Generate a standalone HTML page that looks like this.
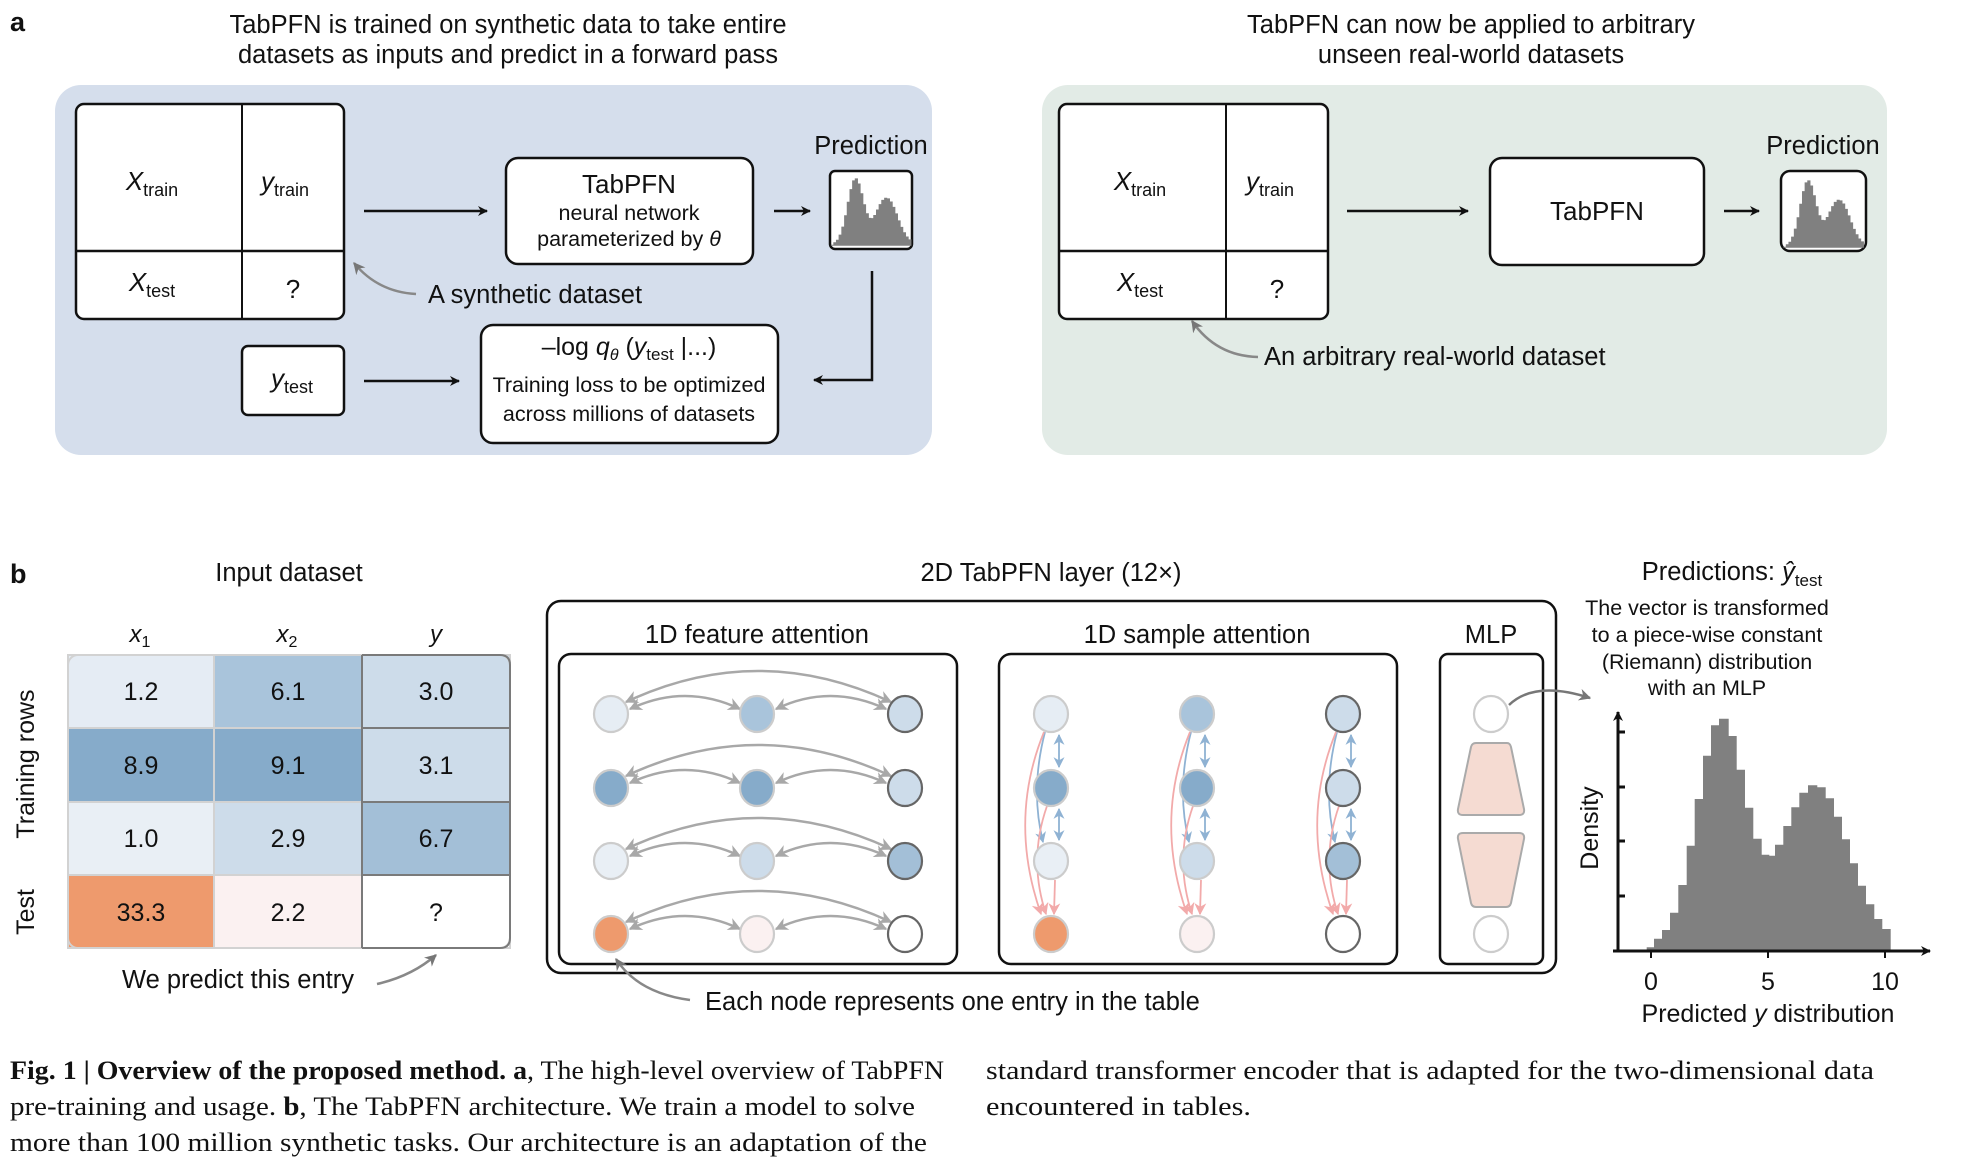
<!DOCTYPE html>
<html><head><meta charset="utf-8"><style>
html,body{margin:0;padding:0;background:#fff}
svg{display:block}
text{font-family:"Liberation Sans",Arial,sans-serif;fill:#111}
.s{font-family:"Liberation Serif",serif}
</style></head><body>
<svg width="1983" height="1166" viewBox="0 0 1983 1166" xmlns="http://www.w3.org/2000/svg">
<defs>
<marker id="ak" viewBox="0 0 10 10" refX="9" refY="5" markerWidth="10" markerHeight="10" markerUnits="userSpaceOnUse" orient="auto-start-reverse"><path d="M0,0 L10,5 L0,10 L3,5 Z" fill="#111"/></marker>
<marker id="ag" viewBox="0 0 10 10" refX="9" refY="5" markerWidth="13" markerHeight="13" markerUnits="userSpaceOnUse" orient="auto-start-reverse"><path d="M0,0 L10,5 L0,10 L3,5 Z" fill="#a8a8a8"/></marker>
<marker id="ad" viewBox="0 0 10 10" refX="9" refY="5" markerWidth="12" markerHeight="12" markerUnits="userSpaceOnUse" orient="auto-start-reverse"><path d="M0,0 L10,5 L0,10 L3,5 Z" fill="#777"/></marker>
<marker id="ab" viewBox="0 0 10 10" refX="9" refY="5" markerWidth="11" markerHeight="11" markerUnits="userSpaceOnUse" orient="auto-start-reverse"><path d="M0,0 L10,5 L0,10 L3,5 Z" fill="#8fb2d3"/></marker>
<marker id="ap" viewBox="0 0 10 10" refX="9" refY="5" markerWidth="12" markerHeight="12" markerUnits="userSpaceOnUse" orient="auto-start-reverse"><path d="M0,0 L10,5 L0,10 L3,5 Z" fill="#f2aaaa"/></marker>
<path id="hist" d="M1646.7 951 V947.3 H1654 V938.7 H1662 V930 H1670 V912.7 H1678.3 V885 H1686.7 V845.7 H1694.7 V799 H1703 V755.7 H1711 V725.3 H1719 V718.7 H1728.7 V736 H1736.7 V769.7 H1745 V807.7 H1753.3 V838.7 H1761.7 V854.7 H1769.3 V855.7 H1775 V844.7 H1783.3 V826 H1791.3 V807.3 H1799.3 V792.7 H1808 V785.3 H1817.3 V787.3 H1825.7 V798.3 H1834 V816.7 H1842 V839.3 H1850 V863.3 H1858 V885.7 H1866 V904.3 H1874.3 V919 H1882.3 V929 H1890.7 V951 Z" fill="#808080"/>
</defs>

<!-- ===== a ===== -->
<text x="10" y="31" font-size="27" font-weight="bold">a</text>
<text x="508" y="33" font-size="25.5" text-anchor="middle">TabPFN is trained on synthetic data to take entire</text>
<text x="508" y="63" font-size="25.5" text-anchor="middle">datasets as inputs and predict in a forward pass</text>
<rect x="55" y="85" width="877" height="370" rx="26" fill="#d5deec"/>

<rect x="76" y="104" width="268" height="215" rx="8" fill="#fff" stroke="#111" stroke-width="2.5"/>
<line x1="242" y1="104" x2="242" y2="319" stroke="#111" stroke-width="2"/>
<line x1="76" y1="251" x2="344" y2="251" stroke="#111" stroke-width="2.5"/>
<text x="152" y="190" font-size="26" text-anchor="middle"><tspan font-style="italic">X</tspan><tspan font-size="18" dy="6">train</tspan></text>
<text x="285" y="190" font-size="26" text-anchor="middle"><tspan font-style="italic">y</tspan><tspan font-size="18" dy="6">train</tspan></text>
<text x="152" y="291" font-size="26" text-anchor="middle"><tspan font-style="italic">X</tspan><tspan font-size="18" dy="6">test</tspan></text>
<text x="293" y="298" font-size="26" text-anchor="middle">?</text>

<line x1="364" y1="211" x2="487" y2="211" stroke="#111" stroke-width="2.5" marker-end="url(#ak)"/>
<rect x="506" y="158" width="247" height="106" rx="12" fill="#fff" stroke="#111" stroke-width="2.5"/>
<text x="629" y="193" font-size="26" text-anchor="middle">TabPFN</text>
<text x="629" y="220" font-size="21.5" text-anchor="middle">neural network</text>
<text x="629" y="246" font-size="21.5" text-anchor="middle">parameterized by <tspan font-style="italic">θ</tspan></text>
<line x1="774" y1="211" x2="810" y2="211" stroke="#111" stroke-width="2.5" marker-end="url(#ak)"/>
<text x="871" y="154" font-size="25.5" text-anchor="middle">Prediction</text>
<rect x="830" y="171" width="82" height="78" rx="5" fill="#fff" stroke="#111" stroke-width="2.5"/>
<use href="#hist" transform="translate(287.5,-30) scale(0.33,0.29)"/>
<polyline points="872,271 872,380 814,380" fill="none" stroke="#111" stroke-width="2.5" marker-end="url(#ak)"/>

<path d="M416,294 Q378,292 354,263" fill="none" stroke="#888" stroke-width="2.5" marker-end="url(#ad)"/>
<text x="428" y="303" font-size="25.5">A synthetic dataset</text>

<rect x="242" y="346" width="102" height="69" rx="6" fill="#fff" stroke="#111" stroke-width="2.5"/>
<text x="292" y="387" font-size="26" text-anchor="middle"><tspan font-style="italic">y</tspan><tspan font-size="18" dy="6">test</tspan></text>
<line x1="364" y1="381" x2="459" y2="381" stroke="#111" stroke-width="2.5" marker-end="url(#ak)"/>
<rect x="481" y="325" width="297" height="118" rx="12" fill="#fff" stroke="#111" stroke-width="2.5"/>
<text x="629" y="355" font-size="25" text-anchor="middle">–log <tspan font-style="italic">q</tspan><tspan font-size="16" dy="5" font-style="italic">θ</tspan><tspan dy="-5"> (</tspan><tspan font-style="italic">y</tspan><tspan font-size="17" dy="5">test</tspan><tspan dy="-5"> |...)</tspan></text>
<text x="629" y="392" font-size="21.5" text-anchor="middle">Training loss to be optimized</text>
<text x="629" y="421" font-size="21.5" text-anchor="middle">across millions of datasets</text>

<!-- right panel -->
<text x="1471" y="33" font-size="25.5" text-anchor="middle">TabPFN can now be applied to arbitrary</text>
<text x="1471" y="63" font-size="25.5" text-anchor="middle">unseen real-world datasets</text>
<rect x="1042" y="85" width="845" height="370" rx="26" fill="#e2ebe6"/>
<rect x="1059" y="104" width="269" height="215" rx="8" fill="#fff" stroke="#111" stroke-width="2.5"/>
<line x1="1226" y1="104" x2="1226" y2="319" stroke="#111" stroke-width="2"/>
<line x1="1059" y1="251" x2="1328" y2="251" stroke="#111" stroke-width="2.5"/>
<text x="1140" y="190" font-size="26" text-anchor="middle"><tspan font-style="italic">X</tspan><tspan font-size="18" dy="6">train</tspan></text>
<text x="1270" y="190" font-size="26" text-anchor="middle"><tspan font-style="italic">y</tspan><tspan font-size="18" dy="6">train</tspan></text>
<text x="1140" y="291" font-size="26" text-anchor="middle"><tspan font-style="italic">X</tspan><tspan font-size="18" dy="6">test</tspan></text>
<text x="1277" y="298" font-size="26" text-anchor="middle">?</text>
<line x1="1347" y1="211" x2="1468" y2="211" stroke="#111" stroke-width="2.5" marker-end="url(#ak)"/>
<rect x="1490" y="158" width="214" height="107" rx="12" fill="#fff" stroke="#111" stroke-width="2.5"/>
<text x="1597" y="220" font-size="26" text-anchor="middle">TabPFN</text>
<line x1="1724" y1="211" x2="1759" y2="211" stroke="#111" stroke-width="2.5" marker-end="url(#ak)"/>
<text x="1823" y="154" font-size="25.5" text-anchor="middle">Prediction</text>
<rect x="1781" y="171" width="85" height="80" rx="9" fill="#fff" stroke="#111" stroke-width="2.5"/>
<use href="#hist" transform="translate(1240,-28) scale(0.33,0.29)"/>
<path d="M1258,357 Q1216,356 1192,321" fill="none" stroke="#888" stroke-width="2.5" marker-end="url(#ad)"/>
<text x="1264" y="365" font-size="25.5">An arbitrary real-world dataset</text>

<!-- ===== b ===== -->
<text x="10" y="583" font-size="27" font-weight="bold">b</text>
<text x="289" y="581" font-size="25.5" text-anchor="middle">Input dataset</text>
<text x="140" y="642" font-size="24" text-anchor="middle"><tspan font-style="italic">x</tspan><tspan font-size="16" dy="5">1</tspan></text>
<text x="287" y="642" font-size="24" text-anchor="middle"><tspan font-style="italic">x</tspan><tspan font-size="16" dy="5">2</tspan></text>
<text x="436" y="642" font-size="24" text-anchor="middle" font-style="italic">y</text>

<g stroke="#d2d2d2" stroke-width="2">
<rect x="68" y="655" width="146" height="73" fill="#e5ecf4"/>
<rect x="214" y="655" width="148" height="73" fill="#a9c4db"/>
<rect x="362" y="655" width="148" height="73" fill="#cddcea"/>
<rect x="68" y="728" width="146" height="74" fill="#86abca"/>
<rect x="214" y="728" width="148" height="74" fill="#86abca"/>
<rect x="362" y="728" width="148" height="74" fill="#cddcea"/>
<rect x="68" y="802" width="146" height="73" fill="#e9eff5"/>
<rect x="214" y="802" width="148" height="73" fill="#cddcea"/>
<rect x="362" y="802" width="148" height="73" fill="#a3bfd7"/>
<rect x="68" y="875" width="146" height="73" fill="#ee9a6d"/>
<rect x="214" y="875" width="148" height="73" fill="#fbf1f1"/>
<rect x="362" y="875" width="148" height="73" fill="#fff"/>
</g>
<rect x="68" y="655" width="442" height="293" rx="10" fill="none" stroke="#d2d2d2" stroke-width="2"/>
<g stroke="#7a7a7a" stroke-width="2" fill="none">
<line x1="362" y1="655" x2="362" y2="948"/>
<line x1="362" y1="728" x2="510" y2="728"/>
<line x1="362" y1="802" x2="510" y2="802"/>
<line x1="362" y1="875" x2="510" y2="875"/>
<path d="M362,655 H500 Q510,655 510,665 V938 Q510,948 500,948 H362"/>
</g>
<g font-size="25" text-anchor="middle">
<text x="141" y="700">1.2</text><text x="288" y="700">6.1</text><text x="436" y="700">3.0</text>
<text x="141" y="774">8.9</text><text x="288" y="774">9.1</text><text x="436" y="774">3.1</text>
<text x="141" y="847">1.0</text><text x="288" y="847">2.9</text><text x="436" y="847">6.7</text>
<text x="141" y="921">33.3</text><text x="288" y="921">2.2</text><text x="436" y="921">?</text>
</g>
<text transform="translate(34,764) rotate(-90)" font-size="25" text-anchor="middle">Training rows</text>
<text transform="translate(34,912) rotate(-90)" font-size="25" text-anchor="middle">Test</text>
<text x="122" y="988" font-size="25.5">We predict this entry</text>
<path d="M377,984 Q412,976 436,955" fill="none" stroke="#888" stroke-width="2.5" marker-end="url(#ad)"/>

<!-- 2D layer -->
<text x="1051" y="581" font-size="25.5" text-anchor="middle">2D TabPFN layer (12×)</text>
<rect x="547" y="601" width="1009" height="372" rx="14" fill="#fff" stroke="#111" stroke-width="2.5"/>
<text x="757" y="643" font-size="25.5" text-anchor="middle">1D feature attention</text>
<rect x="559" y="654" width="398" height="310" rx="12" fill="#fff" stroke="#111" stroke-width="2.5"/>
<text x="1197" y="643" font-size="25.5" text-anchor="middle">1D sample attention</text>
<rect x="999" y="654" width="398" height="310" rx="12" fill="#fff" stroke="#111" stroke-width="2.5"/>
<text x="1491" y="643" font-size="25.5" text-anchor="middle">MLP</text>
<rect x="1440" y="654" width="103" height="310" rx="8" fill="#fff" stroke="#111" stroke-width="2.5"/>

<g>
<!-- feature attention arcs -->
<g fill="none" stroke="#a8a8a8" stroke-width="2.5">
<path d="M626,702 Q758,640 891,702" marker-start="url(#ag)" marker-end="url(#ag)"/>
<path d="M630,709 Q685,683 740,709" marker-start="url(#ag)" marker-end="url(#ag)"/>
<path d="M776,709 Q830,683 886,709" marker-start="url(#ag)" marker-end="url(#ag)"/>
<path d="M626,776 Q758,714 891,776" marker-start="url(#ag)" marker-end="url(#ag)"/>
<path d="M630,783 Q685,757 740,783" marker-start="url(#ag)" marker-end="url(#ag)"/>
<path d="M776,783 Q830,757 886,783" marker-start="url(#ag)" marker-end="url(#ag)"/>
<path d="M626,849 Q758,787 891,849" marker-start="url(#ag)" marker-end="url(#ag)"/>
<path d="M630,856 Q685,830 740,856" marker-start="url(#ag)" marker-end="url(#ag)"/>
<path d="M776,856 Q830,830 886,856" marker-start="url(#ag)" marker-end="url(#ag)"/>
<path d="M626,922 Q758,860 891,922" marker-start="url(#ag)" marker-end="url(#ag)"/>
<path d="M630,929 Q685,903 740,929" marker-start="url(#ag)" marker-end="url(#ag)"/>
<path d="M776,929 Q830,903 886,929" marker-start="url(#ag)" marker-end="url(#ag)"/>
</g>
<g stroke-width="2.2">
<ellipse cx="611" cy="714" rx="17" ry="18" fill="#e6edf4" stroke="#ccc"/>
<ellipse cx="757" cy="714" rx="17" ry="18" fill="#a9c4db" stroke="#ccc"/>
<ellipse cx="905" cy="714" rx="17" ry="18" fill="#cddcea" stroke="#666"/>
<ellipse cx="611" cy="788" rx="17" ry="18" fill="#86abca" stroke="#ccc"/>
<ellipse cx="757" cy="788" rx="17" ry="18" fill="#86abca" stroke="#ccc"/>
<ellipse cx="905" cy="788" rx="17" ry="18" fill="#cddcea" stroke="#666"/>
<ellipse cx="611" cy="861" rx="17" ry="18" fill="#e9eff5" stroke="#ccc"/>
<ellipse cx="757" cy="861" rx="17" ry="18" fill="#cddcea" stroke="#ccc"/>
<ellipse cx="905" cy="861" rx="17" ry="18" fill="#a3bfd7" stroke="#666"/>
<ellipse cx="611" cy="934" rx="17" ry="18" fill="#ee9a6d" stroke="#ccc"/>
<ellipse cx="757" cy="934" rx="17" ry="18" fill="#fbf1f1" stroke="#ccc"/>
<ellipse cx="905" cy="934" rx="17" ry="18" fill="#fff" stroke="#666"/>
</g>

<!-- sample attention arrows -->
<g fill="none" stroke-width="1.8">
<g id="scol">
<path d="M1059,735 L1059,767" stroke="#8fb2d3" marker-start="url(#ab)" marker-end="url(#ab)"/>
<path d="M1059,809 L1059,840" stroke="#8fb2d3" marker-start="url(#ab)" marker-end="url(#ab)"/>
<path d="M1045,732 Q1030,790 1043,842" stroke="#8fb2d3" marker-end="url(#ab)"/>
<path d="M1044,732 Q1008,820 1041,914" stroke="#f2aaaa" marker-end="url(#ap)"/>
<path d="M1047,806 Q1028,860 1046,914" stroke="#f2aaaa" marker-end="url(#ap)"/>
<path d="M1055,880 L1054,914" stroke="#f2aaaa" marker-end="url(#ap)"/>
</g>
<use href="#scol" transform="translate(146,0)"/>
<use href="#scol" transform="translate(292,0)"/>
</g>
<g stroke-width="2.2">
<ellipse cx="1051" cy="714" rx="17" ry="18" fill="#e6edf4" stroke="#ccc"/>
<ellipse cx="1051" cy="788" rx="17" ry="18" fill="#86abca" stroke="#ccc"/>
<ellipse cx="1051" cy="861" rx="17" ry="18" fill="#e9eff5" stroke="#ccc"/>
<ellipse cx="1051" cy="934" rx="17" ry="18" fill="#ee9a6d" stroke="#ccc"/>
<ellipse cx="1197" cy="714" rx="17" ry="18" fill="#a9c4db" stroke="#ccc"/>
<ellipse cx="1197" cy="788" rx="17" ry="18" fill="#86abca" stroke="#ccc"/>
<ellipse cx="1197" cy="861" rx="17" ry="18" fill="#cddcea" stroke="#ccc"/>
<ellipse cx="1197" cy="934" rx="17" ry="18" fill="#fbf1f1" stroke="#ccc"/>
<ellipse cx="1343" cy="714" rx="17" ry="18" fill="#cddcea" stroke="#666"/>
<ellipse cx="1343" cy="788" rx="17" ry="18" fill="#cddcea" stroke="#666"/>
<ellipse cx="1343" cy="861" rx="17" ry="18" fill="#a3bfd7" stroke="#666"/>
<ellipse cx="1343" cy="934" rx="17" ry="18" fill="#fff" stroke="#666"/>
</g>

<!-- MLP -->
<ellipse cx="1491" cy="714" rx="17" ry="18" fill="#fff" stroke="#ccc" stroke-width="2.2"/>
<ellipse cx="1491" cy="934" rx="17" ry="18" fill="#fff" stroke="#ccc" stroke-width="2.2"/>
<path d="M1476,743 H1507 Q1510,743 1511,747 L1524,809 Q1525,815 1519,815 H1463 Q1457,815 1458,809 L1471,747 Q1472,743 1476,743 Z" fill="#f5dbd2" stroke="#aaa" stroke-width="2"/>
<path d="M1463,833 H1519 Q1525,833 1524,839 L1511,903 Q1510,907 1506,907 H1476 Q1472,907 1471,903 L1458,839 Q1457,833 1463,833 Z" fill="#f5dbd2" stroke="#aaa" stroke-width="2"/>
</g>
<path d="M1509,705 Q1535,680 1590,698" fill="none" stroke="#777" stroke-width="2.5" marker-end="url(#ad)"/>

<path d="M690,1000 Q638,993 616,959" fill="none" stroke="#888" stroke-width="2.5" marker-end="url(#ad)"/>
<text x="705" y="1010" font-size="25.5">Each node represents one entry in the table</text>

<!-- predictions -->
<text x="1732" y="580" font-size="25.5" text-anchor="middle">Predictions: <tspan font-style="italic">ŷ</tspan><tspan font-size="17" dy="6">test</tspan></text>
<g font-size="21.5" text-anchor="middle">
<text x="1707" y="615">The vector is transformed</text>
<text x="1707" y="642">to a piece-wise constant</text>
<text x="1707" y="669">(Riemann) distribution</text>
<text x="1707" y="695">with an MLP</text>
</g>
<use href="#hist"/>
<g stroke="#111" stroke-width="3" fill="none">
<line x1="1618" y1="952" x2="1618" y2="712" marker-end="url(#ak)"/>
<line x1="1613" y1="951" x2="1930" y2="951" marker-end="url(#ak)"/>
<line x1="1618" y1="732" x2="1625" y2="732"/><line x1="1618" y1="787" x2="1625" y2="787"/>
<line x1="1618" y1="841" x2="1625" y2="841"/><line x1="1618" y1="896" x2="1625" y2="896"/>
<line x1="1651" y1="951" x2="1651" y2="958" stroke-width="2"/><line x1="1768" y1="951" x2="1768" y2="958" stroke-width="2"/><line x1="1885" y1="951" x2="1885" y2="958" stroke-width="2"/>
</g>
<g font-size="25" text-anchor="middle">
<text x="1651" y="990">0</text><text x="1768" y="990">5</text><text x="1885" y="990">10</text>
<text x="1768" y="1022">Predicted <tspan font-style="italic">y</tspan> distribution</text>
</g>
<text transform="translate(1616,828) rotate(-90)" font-size="25" text-anchor="middle" x="0" y="-18">Density</text>

<!-- caption -->
<g class="s" font-size="26">
<text class="s" x="10" y="1079" textLength="934" lengthAdjust="spacingAndGlyphs"><tspan font-weight="bold">Fig. 1 | Overview of the proposed method. a</tspan>, The high-level overview of TabPFN</text>
<text class="s" x="10" y="1115" textLength="905" lengthAdjust="spacingAndGlyphs">pre-training and usage. <tspan font-weight="bold">b</tspan>, The TabPFN architecture. We train a model to solve</text>
<text class="s" x="10" y="1151" textLength="917" lengthAdjust="spacingAndGlyphs">more than 100 million synthetic tasks. Our architecture is an adaptation of the</text>
<text class="s" x="986" y="1079" textLength="888" lengthAdjust="spacingAndGlyphs">standard transformer encoder that is adapted for the two-dimensional data</text>
<text class="s" x="986" y="1115" textLength="265" lengthAdjust="spacingAndGlyphs">encountered in tables.</text>
</g>
</svg>
</body></html>
